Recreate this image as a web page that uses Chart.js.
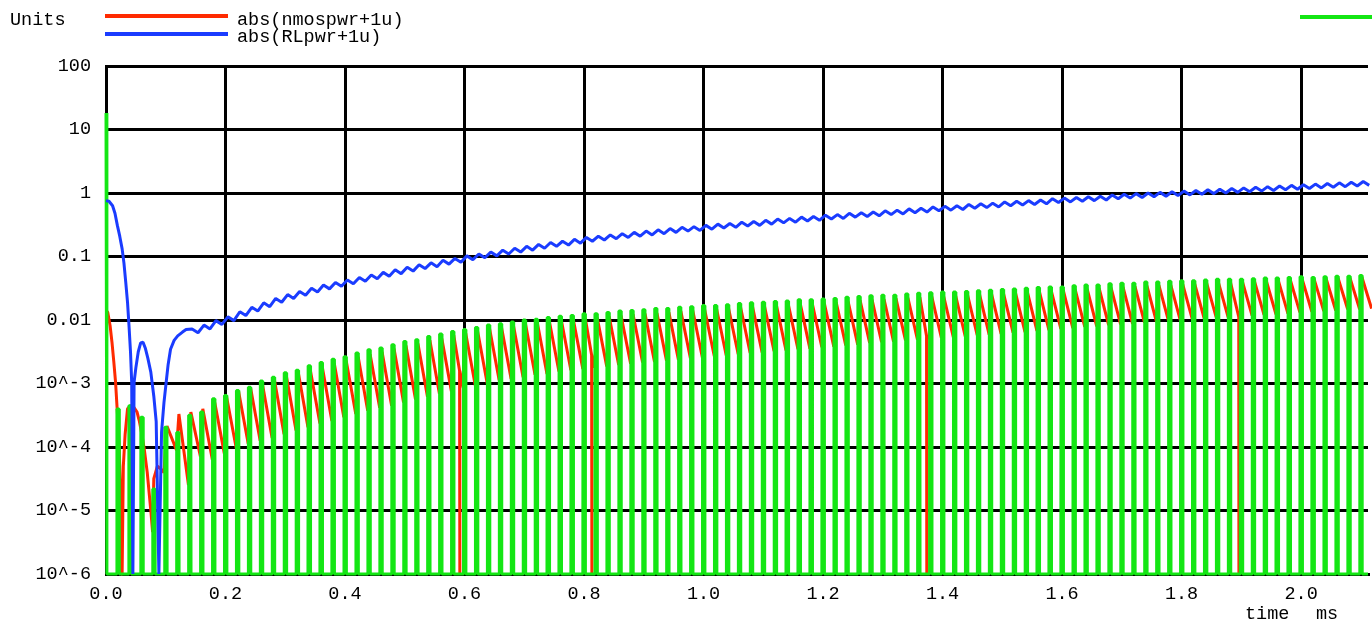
<!DOCTYPE html>
<html>
<head>
<meta charset="utf-8">
<script src="https://cdn.jsdelivr.net/npm/chart.js"></script>
<style>
  body { margin: 0; background: #fff; }
  #wrap { position: relative; width: 1372px; height: 628px; overflow: hidden; }
  #plot { position: absolute; left: 0; top: 0; }
  .txt { position: absolute; font: 18.5px/1 "Liberation Mono", monospace; color: #000; white-space: pre; }
  .key { position: absolute; height: 4px; }
</style>
</head>
<body>
<div id="wrap">
  <canvas id="plot" width="1372" height="628"></canvas>
  <div class="txt" style="left:10px;top:12px">Units</div>
  <div class="key" style="left:105px;top:14px;width:123px;background:#ff2a00"></div>
  <div class="txt" id="name0" style="left:237px;top:12px"></div>
  <div class="key" style="left:105px;top:32px;width:123px;background:#1a3cff"></div>
  <div class="txt" id="name1" style="left:237px;top:29px"></div>
  <div class="key" style="left:1300px;top:15px;width:72px;background:#14e614"></div>
  <div class="txt" style="left:1245px;top:606px">time</div>
  <div class="txt" style="left:1316px;top:606px">ms</div>
</div>
<script>
// axis
const xTicks = [0, 0.2, 0.4, 0.6, 0.8, 1.0, 1.2, 1.4, 1.6, 1.8, 2.0];
const xTickLabels = ["0.0", "0.2", "0.4", "0.6", "0.8", "1.0", "1.2", "1.4", "1.6", "1.8", "2.0"];
const yTicks = [1e-6, 1e-5, 1e-4, 1e-3, 0.01, 0.1, 1, 10, 100];
const yTickLabels = ["10^-6", "10^-5", "10^-4", "10^-3", "0.01", "0.1", "1", "10", "100"];
const xMax = 2.112;
const seriesNames = ["abs(nmospwr+1u)", "abs(RLpwr+1u)", ""];

// switching pulses: one per cycle, times in ms
const firstPulse = 0.018;
const period = 0.02;

// all levels below are decades (log10 of the value)
const greenStartT = [0, 0.0015];
const greenStartExp = [1.26, -6];
// green pulse tops, cycles 0..104
const greenTopExp = [
  -3.40, -3.35, -3.53, -4.66, -3.69, -3.77, -3.50, -3.45, -3.24, -3.19, -3.11, -3.06,
  -2.96, -2.90, -2.83, -2.79, -2.72, -2.67, -2.62, -2.58, -2.52, -2.47, -2.44, -2.39,
  -2.34, -2.31, -2.26, -2.22, -2.18, -2.15, -2.12, -2.08, -2.06, -2.03,
  -2.00, -1.99, -1.96, -1.94, -1.93, -1.90, -1.90, -1.88, -1.86, -1.85,
  -1.84, -1.82, -1.82, -1.80, -1.79, -1.77, -1.77, -1.76, -1.74, -1.73,
  -1.72, -1.71, -1.70, -1.68, -1.68, -1.67, -1.66, -1.64, -1.63, -1.62,
  -1.61, -1.61, -1.59, -1.58, -1.57, -1.56, -1.56, -1.55, -1.54, -1.53,
  -1.52, -1.51, -1.50, -1.49, -1.48, -1.48, -1.46, -1.45, -1.45, -1.43,
  -1.42, -1.42, -1.40, -1.40, -1.39, -1.38, -1.38, -1.37, -1.36, -1.36,
  -1.36, -1.35, -1.34, -1.34, -1.33, -1.32, -1.33, -1.32, -1.31, -1.31, -1.30
];

// red before the sawtooth settles
const redEarlyT = [0, 0.003, 0.007, 0.010, 0.013, 0.016, 0.019, 0.022, 0.024, 0.0255, 0.027, 0.029,
  0.032, 0.036, 0.041, 0.047, 0.052, 0.056, 0.060, 0.064, 0.069, 0.075, 0.078, 0.080, 0.086, 0.092, 0.097];
const redEarlyExp = [-1.85, -1.88, -2.10, -2.35, -2.65, -2.98, -3.45, -4.00, -4.60, -6, -6, -4.30,
  -3.80, -3.40, -3.35, -3.38, -3.45, -3.60, -3.80, -4.03, -4.40, -5.00, -5.34, -4.50, -4.30, -4.35, -4.40];
// red sawtooth, cycles 4..104: peak after each pulse, trough before the next
const redFirstCycle = 4;
const redPeakExp = [
  -3.67, -3.48, -3.45, -3.40, -3.30, -3.22, -3.13, -3.07, -3.02, -2.95,
  -2.89, -2.84, -2.79, -2.74, -2.68, -2.64, -2.58, -2.54, -2.50, -2.45,
  -2.40, -2.37, -2.32, -2.29, -2.24, -2.21, -2.18, -2.14, -2.12, -2.09,
  -2.06, -2.05, -2.02, -2.00, -1.99, -1.97, -1.96, -1.94, -1.93, -1.91,
  -1.90, -1.89, -1.88, -1.86, -1.85, -1.84, -1.83, -1.82, -1.80, -1.79,
  -1.78, -1.77, -1.76, -1.75, -1.74, -1.73, -1.72, -1.71, -1.69, -1.68,
  -1.67, -1.66, -1.65, -1.64, -1.63, -1.63, -1.62, -1.61, -1.60, -1.59,
  -1.58, -1.57, -1.56, -1.55, -1.54, -1.53, -1.52, -1.51, -1.50, -1.49,
  -1.48, -1.47, -1.46, -1.45, -1.45, -1.44, -1.43, -1.42, -1.42, -1.41,
  -1.40, -1.39, -1.39, -1.38, -1.37, -1.36, -1.36, -1.35, -1.34, -1.34, -1.33
];
const redTroughExp = [
  -4.05, -4.60, -4.15, -4.20, -4.10, -4.02, -3.95, -3.90, -3.86, -3.80,
  -3.74, -3.69, -3.63, -3.59, -3.53, -3.48, -3.43, -3.38, -3.35, -3.30,
  -3.25, -3.21, -3.16, -3.12, -3.07, -3.03, -3.00, -2.95, -2.93, -2.90,
  -2.86, -2.85, -2.81, -2.79, -2.77, -2.75, -2.73, -2.71, -2.69, -2.67,
  -2.66, -2.64, -2.63, -2.60, -2.59, -2.57, -2.56, -2.54, -2.52, -2.51,
  -2.49, -2.48, -2.46, -2.45, -2.43, -2.42, -2.40, -2.39, -2.36, -2.35,
  -2.34, -2.32, -2.31, -2.29, -2.28, -2.27, -2.26, -2.24, -2.23, -2.22,
  -2.20, -2.19, -2.17, -2.16, -2.14, -2.13, -2.11, -2.10, -2.08, -2.07,
  -2.06, -2.04, -2.03, -2.01, -2.01, -1.99, -1.98, -1.96, -1.96, -1.95,
  -1.93, -1.92, -1.91, -1.90, -1.88, -1.87, -1.86, -1.85, -1.83, -1.83, -1.82
];
// narrow red drops to the floor
const redDipT = [0.592, 0.813, 1.3735, 1.896];
const redDipFromExp = [-2.80, -2.55, -2.25, -1.95];

// blue before the ripple settles
const blueEarlyT = [0, 0.005, 0.011, 0.015, 0.019, 0.023, 0.027, 0.030, 0.033, 0.036, 0.0385, 0.041,
  0.043, 0.045, 0.047, 0.050, 0.054, 0.058, 0.062, 0.066, 0.070, 0.075, 0.080, 0.084, 0.0885, 0.093,
  0.097, 0.100, 0.104, 0.108, 0.114, 0.120, 0.128, 0.134];
const blueEarlyExp = [-0.12, -0.13, -0.20, -0.32, -0.51, -0.68, -0.88, -1.10, -1.40, -1.72, -2.09, -2.50,
  -2.98, -6, -2.98, -2.75, -2.50, -2.36, -2.35, -2.45, -2.60, -2.82, -3.20, -3.60, -6, -3.76,
  -3.30, -3.04, -2.70, -2.46, -2.32, -2.25, -2.19, -2.15];
// blue ripple, cycles 6..104
const blueFirstCycle = 6;
const blueHiExp = [
  -2.14, -2.08, -2.01, -1.95, -1.87, -1.80, -1.73, -1.66, -1.60, -1.55,
  -1.50, -1.45, -1.41, -1.37, -1.33, -1.29, -1.25, -1.21, -1.17, -1.13,
  -1.10, -1.06, -1.03, -0.99, -0.96, -0.93, -0.90, -0.87, -0.84, -0.81,
  -0.78, -0.76, -0.73, -0.70, -0.68, -0.66, -0.64, -0.62, -0.60, -0.58,
  -0.56, -0.54, -0.53, -0.51, -0.49, -0.48, -0.46, -0.45, -0.43, -0.41,
  -0.40, -0.38, -0.37, -0.35, -0.34, -0.32, -0.31, -0.30, -0.28, -0.27,
  -0.25, -0.24, -0.22, -0.21, -0.20, -0.18, -0.17, -0.16, -0.14, -0.13,
  -0.12, -0.11, -0.09, -0.08, -0.07, -0.06, -0.05, -0.03, -0.02, -0.01,
  0.00, 0.01, 0.02, 0.03, 0.04, 0.05, 0.06, 0.07, 0.08, 0.09,
  0.10, 0.11, 0.12, 0.13, 0.14, 0.15, 0.16, 0.17, 0.18
];
const blueLoExp = [
  -2.20, -2.14, -2.07, -2.01, -1.93, -1.86, -1.79, -1.72, -1.66, -1.61,
  -1.56, -1.51, -1.47, -1.43, -1.39, -1.35, -1.31, -1.27, -1.23, -1.19,
  -1.16, -1.12, -1.09, -1.05, -1.02, -0.99, -0.96, -0.93, -0.90, -0.87,
  -0.84, -0.82, -0.79, -0.76, -0.74, -0.72, -0.70, -0.68, -0.66, -0.64,
  -0.62, -0.60, -0.59, -0.57, -0.55, -0.54, -0.52, -0.51, -0.49, -0.47,
  -0.46, -0.44, -0.43, -0.41, -0.40, -0.38, -0.37, -0.36, -0.34, -0.33,
  -0.31, -0.30, -0.28, -0.27, -0.26, -0.24, -0.23, -0.22, -0.20, -0.19,
  -0.18, -0.17, -0.15, -0.14, -0.13, -0.12, -0.11, -0.09, -0.08, -0.07,
  -0.06, -0.05, -0.04, -0.03, -0.02, -0.01, 0.00, 0.01, 0.02, 0.03,
  0.04, 0.05, 0.06, 0.07, 0.08, 0.09, 0.10, 0.11, 0.12
];

document.getElementById("name0").textContent = seriesNames[0];
document.getElementById("name1").textContent = seriesNames[1];

const val = (e) => Math.pow(10, e);
const floor = 1e-6;
const pulseAt = (k) => firstPulse + period * k;

// green: narrow pulses, zero (1u floor) in between
const green = greenStartT.map((t, i) => ({ x: t, y: val(greenStartExp[i]) }));
greenTopExp.forEach((e, k) => {
  const t = pulseAt(k);
  green.push({ x: t, y: floor }, { x: t + 0.0003, y: val(e) }, { x: t + 0.004, y: val(e) }, { x: t + 0.0043, y: floor });
});
green.push({ x: xMax, y: floor });

// red: sawtooth
let red = redEarlyT.map((t, i) => ({ x: t, y: val(redEarlyExp[i]) }));
redPeakExp.forEach((e, i) => {
  const t = pulseAt(i + redFirstCycle);
  red.push({ x: t + 0.004, y: val(e) }, { x: t + period, y: val(redTroughExp[i]) });
});
redDipT.forEach((t, i) => {
  red.push({ x: t - 0.0003, y: val(redDipFromExp[i]) }, { x: t, y: floor }, { x: t + 0.0003, y: val(redDipFromExp[i]) });
});
red.sort((a, b) => a.x - b.x);

// blue: smooth rise with a small ripple each cycle
const blue = blueEarlyT.map((t, i) => ({ x: t, y: val(blueEarlyExp[i]) }));
blueHiExp.forEach((e, i) => {
  const t = pulseAt(i + blueFirstCycle);
  blue.push({ x: t + 0.006, y: val(e) }, { x: t + 0.016, y: val(blueLoExp[i]) });
});

const tickFont = { family: "Liberation Mono", size: 18.5 };
const line = (label, data, color) => ({
  label, data, borderColor: color, borderWidth: 3, pointRadius: 0,
  borderJoinStyle: "bevel", tension: 0, fill: false, clip: 4
});

new Chart(document.getElementById("plot"), {
  type: "line",
  data: {
    datasets: [
      line(seriesNames[1], blue, "#1a3cff"),
      line(seriesNames[2], green, "#14e614"),
      line(seriesNames[0], red, "#ff2a00")
    ]
  },
  options: {
    responsive: false,
    animation: false,
    layout: { padding: { left: 0, right: 4, top: 66, bottom: 0 } },
    plugins: { legend: { display: false }, tooltip: { enabled: false } },
    scales: {
      x: {
        type: "linear", min: 0, max: xMax,
        afterBuildTicks: (s) => { s.ticks = xTicks.map((v) => ({ value: v })); },
        afterFit: (s) => { s.height = 54; },
        ticks: {
          callback: (v, i) => xTickLabels[i], font: tickFont, color: "#000",
          padding: 9, autoSkip: false, maxRotation: 0, minRotation: 0
        },
        grid: { color: "#000", lineWidth: 3, drawTicks: false },
        border: { color: "#000", width: 3 }
      },
      y: {
        type: "logarithmic", min: 1e-6, max: 100,
        afterBuildTicks: (s) => { s.ticks = yTicks.map((v) => ({ value: v })); },
        afterFit: (s) => { s.width = 106; },
        ticks: { callback: (v, i) => yTickLabels[i], font: tickFont, color: "#000", padding: 15, autoSkip: false },
        grid: { color: "#000", lineWidth: 3, drawTicks: false },
        border: { color: "#000", width: 3 }
      }
    }
  }
});
</script>
</body>
</html>
